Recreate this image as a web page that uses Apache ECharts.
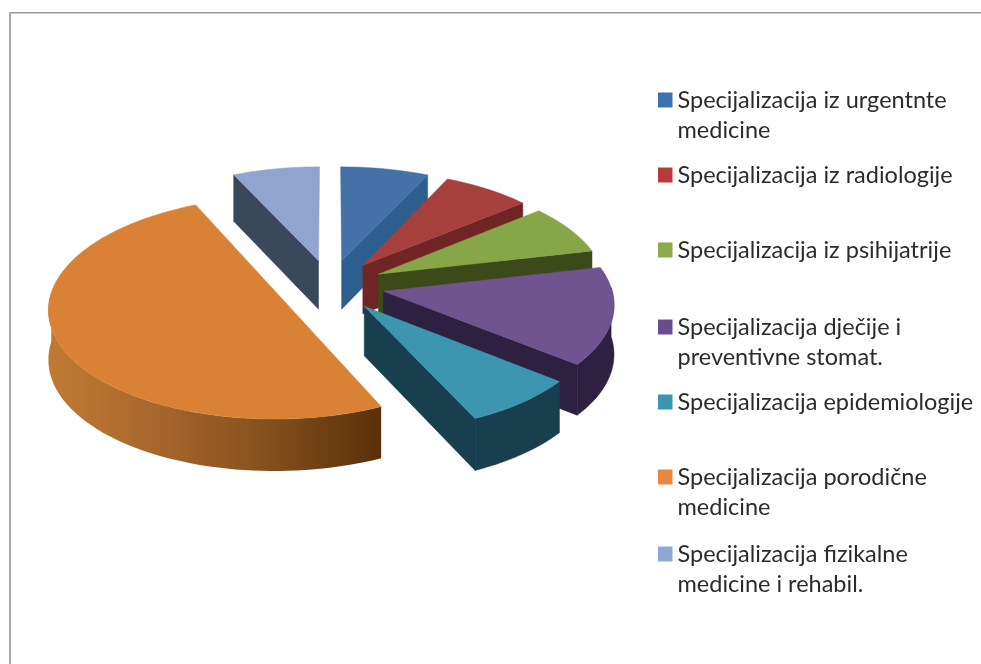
<!DOCTYPE html>
<html><head><meta charset="utf-8">
<style>html,body{margin:0;padding:0;background:#fff}#c{width:981px;height:664px}</style>
<script src="https://cdn.jsdelivr.net/npm/echarts@6/dist/echarts.min.js"></script>
</head><body><div id="c"></div>
<script>
const categories = [
  'Specijalizacija iz urgentnte\nmedicine',
  'Specijalizacija iz radiologije',
  'Specijalizacija iz psihijatrije',
  'Specijalizacija dječije i\npreventivne stomat.',
  'Specijalizacija epidemiologije',
  'Specijalizacija porodične\nmedicine',
  'Specijalizacija fizikalne\nmedicine i rehabil.'
];
const values = [7, 7, 7.4, 14.4, 7.3, 50, 6.9];
const topColors = ['#4472a8', '#a6403c', '#86a648', '#6f5490', '#3d96b0', '#d98236', '#8fa5cf'];
const wallColors = ['#2d5f8e', '#702525', '#3c4a1a', '#2e2040', '#173f4d', '#5a3009', '#3b475a'];
const legendColors = ['#3f72b0', '#b93a37', '#8aac4a', '#6a4c93', '#3a95b3', '#e8873a', '#8da7d3'];
const legendCentres = [100, 175, 250, 327, 402, 477, 554];
const paintOrder = [6, 0, 1, 2, 3, 5, 4];

// 3-D pie projection
const cx = 330, cy = 285.5, A = 227.5, B = 108, K = 0.1, EXPLODE = 0.24, DEPTH = 49;
const RAD = Math.PI / 180;
const total = values.reduce((a, b) => a + b, 0);
function project(X, Y, low) {
  const s = 1 / (1 + K * Y);
  return [cx + A * X * s, cy - B * Y * s + (low ? DEPTH * Math.sqrt(s) : 0)];
}
function renderSlice(index, api) {
  const v = api.value(0);
  const before = values.slice(0, index).reduce((a, b) => a + b, 0);
  const a0 = before / total * 360, a1 = a0 + v / total * 360, mid = (a0 + a1) / 2;
  const ox = EXPLODE * Math.sin(mid * RAD), oy = EXPLODE * Math.cos(mid * RAD);
  const at = deg => [ox + Math.sin(deg * RAD), oy + Math.cos(deg * RAD)];
  const arc = (from, to) => {
    const n = Math.max(2, Math.ceil((to - from) / 2));
    const out = [];
    for (let i = 0; i <= n; i++) out.push(at(from + (to - from) * i / n));
    return out;
  };
  const hub = [ox, oy];
  const quad = (p, q) => [project(p[0], p[1], false), project(q[0], q[1], false), project(q[0], q[1], true), project(p[0], p[1], true)];
  const wall = wallColors[index];
  const rimFill = index === 5 ? {
    type: 'linear', x: 0, y: 0, x2: 1, y2: 0,
    colorStops: [
      { offset: 0, color: '#c07a33' }, { offset: 0.3, color: '#a9692c' },
      { offset: 0.65, color: '#85501f' }, { offset: 1, color: '#5a3009' }
    ]
  } : wall;
  const poly = (points, fill) => ({ type: 'polygon', shape: { points }, style: { fill, stroke: typeof fill === 'string' ? fill : null, lineWidth: 0.5 } });
  const children = [];
  // a radial wall or a rim part is seen only when it faces the viewer
  if (Math.sin(a0 * RAD) < -1e-6) children.push(poly(quad(hub, at(a0)), wall));
  if (Math.sin(a1 * RAD) > 1e-6) children.push(poly(quad(hub, at(a1)), wall));
  const r0 = Math.max(a0, 88), r1 = Math.min(a1, 272);
  if (r1 > r0) {
    const front = arc(r0, r1);
    children.push(poly(
      front.map(p => project(p[0], p[1], false)).concat(front.map(p => project(p[0], p[1], true)).reverse()),
      rimFill
    ));
  }
  children.push(poly([project(hub[0], hub[1], false)].concat(arc(a0, a1).map(p => project(p[0], p[1], false))), topColors[index]));
  return { type: 'group', children };
}

const series = paintOrder.map((idx, order) => ({
  type: 'custom',
  name: categories[idx],
  coordinateSystem: 'none',
  z: 2 + order,
  silent: true,
  itemStyle: { color: topColors[idx] },
  data: [[values[idx]]],
  encode: { value: 0 },
  renderItem: (params, api) => renderSlice(idx, api)
}));

const LINE = 30;
const legend = categories.map((name, i) => {
  const multi = name.indexOf('\n') >= 0;
  const lines = multi ? 3 : 1; // a blank leading line keeps the marker on the first text line
  return {
    data: [{ name, icon: 'rect' }],
    orient: 'vertical',
    left: 658,
    top: legendCentres[i] - lines * LINE / 2,
    padding: 0,
    itemWidth: 14.5,
    itemHeight: 15,
    itemGap: 0,
    selectedMode: false,
    itemStyle: { color: legendColors[i] },
    formatter: n => (multi ? '\n' : '') + n,
    textStyle: { fontFamily: 'Lato', fontSize: 23.5, color: '#2b2b2b', lineHeight: LINE }
  };
});

const chart = echarts.init(document.getElementById('c'), null, { renderer: 'canvas' });
chart.setOption({
  animation: false,
  backgroundColor: '#ffffff',
  legend,
  series,
  graphic: [
    { type: 'rect', silent: true, shape: { x: 9, y: 12, width: 972, height: 1.5 }, style: { fill: '#9a9a9a' } },
    { type: 'rect', silent: true, shape: { x: 9, y: 12, width: 2, height: 652 }, style: { fill: '#a8a8a8' } }
  ]
});
</script></body></html>
